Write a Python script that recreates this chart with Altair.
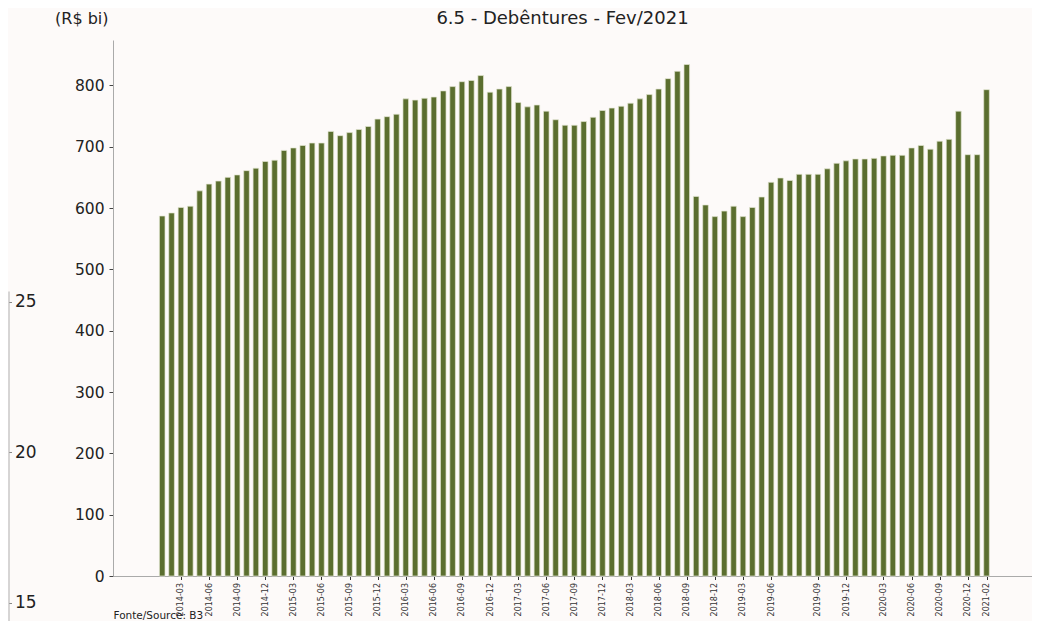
import altair as alt
import pandas as pd

periods = [
    "2014-01", "2014-02", "2014-03", "2014-04", "2014-05", "2014-06", "2014-07", "2014-08", "2014-09", "2014-10", "2014-11", "2014-12",
    "2015-01", "2015-02", "2015-03", "2015-04", "2015-05", "2015-06", "2015-07", "2015-08", "2015-09", "2015-10", "2015-11", "2015-12",
    "2016-01", "2016-02", "2016-03", "2016-04", "2016-05", "2016-06", "2016-07", "2016-08", "2016-09", "2016-10", "2016-11", "2016-12",
    "2017-01", "2017-02", "2017-03", "2017-04", "2017-05", "2017-06", "2017-07", "2017-08", "2017-09", "2017-10", "2017-11", "2017-12",
    "2018-01", "2018-02", "2018-03", "2018-04", "2018-05", "2018-06", "2018-07", "2018-08", "2018-09", "2018-10", "2018-11", "2018-12",
    "2019-01", "2019-02", "2019-03", "2019-04", "2019-05", "2019-06", "2019-07", "2019-07", "2019-08", "2019-08",
    "2019-09", "2019-10", "2019-11", "2019-12", "2020-01", "2020-01", "2020-02", "2020-03", "2020-04", "2020-05",
    "2020-06", "2020-07", "2020-08", "2020-09", "2020-10", "2020-11", "2020-12", "2021-01", "2021-02",
]

values = [
    587, 592, 601, 603, 628, 639, 644, 650, 654, 661, 665, 676,
    678, 694, 698, 702, 706, 706, 725, 718, 723, 728, 733, 745,
    749, 753, 778, 776, 779, 781, 791, 798, 806, 808, 816, 789,
    794, 798, 772, 765, 768, 758, 744, 735, 735, 741, 748, 759,
    763, 766, 771, 778, 785, 794, 811, 823, 834, 619, 605, 586,
    595, 603, 586, 601, 618, 642, 649, 645, 655, 655,
    655, 664, 673, 677, 680, 680, 681, 685, 686, 686,
    698, 702, 696, 709, 712, 758, 687, 687, 793,
]

tick_labels = [
    "2014-03", "2014-06", "2014-09", "2014-12", "2015-03", "2015-06", "2015-09", "2015-12",
    "2016-03", "2016-06", "2016-09", "2016-12", "2017-03", "2017-06", "2017-09", "2017-12",
    "2018-03", "2018-06", "2018-09", "2018-12", "2019-03", "2019-06", "2019-09", "2019-12",
    "2020-03", "2020-06", "2020-09", "2020-12", "2021-02",
]

y_ticks = [0, 100, 200, 300, 400, 500, 600, 700, 800]
left_ticks = [15, 20, 25]

df = pd.DataFrame({"idx": list(range(len(periods))), "period": periods, "value": values})
tick_idx = [periods.index(t) for t in tick_labels]
label_expr = "[" + ",".join("'" + p + "'" for p in periods) + "][datum.value]"

FONT = "DejaVu Sans"
PLOT_W = 919

bars = alt.Chart(df).mark_bar(
    size=5.6, color="#5b6e2f", stroke="#e4e6d2", strokeWidth=0.7
).encode(
    x=alt.X(
        "idx:Q",
        scale=alt.Scale(domain=[-4.72, 92.32], nice=False, zero=False),
        axis=alt.Axis(
            values=tick_idx, labelExpr=label_expr, labelAngle=270, labelFontSize=8,
            labelPadding=3, tickSize=3.5, labelColor="#333333", tickColor="#333333",
            domainColor="#aaaaaa", grid=False,
            title="Fonte/Source: B3", titleX=0, titleY=42.5, titleAlign="left",
            titleAnchor="start", titleAngle=0, titleBaseline="alphabetic", titleFontSize=10.5,
            titleFontWeight="normal", titleColor="#222222", labelFlush=False, labelOverlap=False,
        ),
    ),
    y=alt.Y(
        "value:Q",
        scale=alt.Scale(domain=[0, 874], nice=False),
        axis=alt.Axis(
            values=y_ticks, labelFontSize=15.5, labelPadding=5, tickSize=4,
            labelColor="#222222", tickColor="#444444", domainColor="#aaaaaa", grid=False,
            title="(R$ bi)", titleAngle=0, titleX=-5, titleY=-22, titleAlign="right",
            titleBaseline="middle", titleFontSize=16, titleFontWeight="normal",
            titleColor="#222222",
        ),
    ),
)

left = alt.Chart(pd.DataFrame({"v": left_ticks})).mark_tick(opacity=0).encode(
    y=alt.Y(
        "v:Q",
        scale=alt.Scale(domain=[13.76, 25.355], range=[600, 251], nice=False, zero=False),
        axis=alt.Axis(
            orient="right", offset=-(PLOT_W + 104.5), values=left_ticks, tickSize=3,
            labelPadding=3, labelFontSize=17, labelColor="#222222", tickColor="#888888",
            domainColor="#b0b0b0", grid=False, title="",
        ),
    ),
)

chart = alt.layer(bars, left).resolve_scale(y="independent").properties(
    width=PLOT_W,
    height=536,
    autosize=alt.AutoSizeParams(type="none"),
    padding={"left": 105, "top": 32, "right": 0, "bottom": 45},
    background="#fdfaf9",
    title=alt.TitleParams(
        "6.5 - Debêntures - Fev/2021", anchor="middle", frame="group", offset=0, dy=32,
        dx=-10, baseline="alphabetic", fontSize=18, fontWeight="normal", font=FONT,
        color="#222222",
    ),
).configure(font=FONT).configure_view(stroke="transparent")

chart.save("out.html", embed_options={"renderer": "svg", "actions": False})
